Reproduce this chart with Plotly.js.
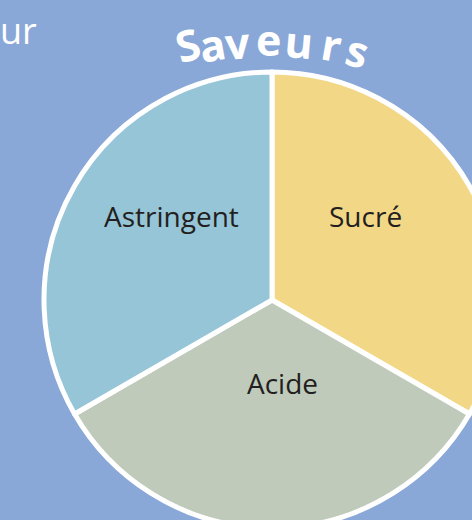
<!DOCTYPE html>
<html>
<head>
<meta charset="utf-8">
<script src="https://cdn.plot.ly/plotly-3.0.1.min.js"></script>
<style>
  html, body { margin: 0; padding: 0; overflow: hidden; background: #89a8d8; }
  #wrap { width: 472px; height: 520px; overflow: hidden; position: relative; }
  #chart { width: 544px; height: 600px; position: absolute; left: 0; top: 0; }
</style>
</head>
<body>
<div id="wrap"><div id="chart"></div></div>
<script>
// Data
const labels = ['Sucré', 'Acide', 'Astringent'];
const values = [1, 1, 1];
const sliceColors = ['#f2d886', '#bfcabb', '#96c5d8'];
const titleText = 'Saveurs';
const cornerText = 'ur';

// Layout helpers (pixel -> paper, plot is 544x600 with zero margins)
const W = 544, H = 600;
const px = x => x / W;
const py = y => 1 - y / H;

// Pie geometry in pixels
const cx = 272, cy = 300, R = 228;

// Label placement (pixel box centres) for each category
const labelPos = [[365, 216], [282, 383], [171, 216]];

// Curved title letters: centre positions and rotation
const letterPos = [
  [188, 45, -15], [212, 44, -10], [237, 43, -5], [268, 40, 0],
  [299, 41, 5], [332, 45, 10], [357, 50, 15]
];

const annotations = [];
labels.forEach((lab, i) => {
  annotations.push({
    text: lab, x: px(labelPos[i][0]), y: py(labelPos[i][1]),
    xref: 'paper', yref: 'paper', showarrow: false,
    xanchor: 'center', yanchor: 'middle',
    font: { family: 'Open Sans', size: 28, color: '#231f20' }
  });
});
titleText.split('').forEach((ch, i) => {
  const p = letterPos[i];
  annotations.push({
    text: ch, x: px(p[0]), y: py(p[1]), textangle: p[2],
    xref: 'paper', yref: 'paper', showarrow: false,
    xanchor: 'center', yanchor: 'middle',
    font: { family: 'Open Sans', size: 43, color: '#ffffff', weight: 700 }
  });
});
annotations.push({
  text: cornerText, x: px(0), y: py(31),
  xref: 'paper', yref: 'paper', showarrow: false,
  xanchor: 'left', yanchor: 'middle', borderpad: 0, borderwidth: 0,
  font: { family: 'Open Sans', size: 36, color: '#ffffff' }
});

const trace = {
  type: 'pie',
  labels: labels,
  values: values,
  sort: false,
  direction: 'clockwise',
  rotation: 0,
  textinfo: 'none',
  hoverinfo: 'skip',
  marker: { colors: sliceColors, line: { color: '#ffffff', width: 5 } },
  domain: { x: [px(cx - R), px(cx + R)], y: [py(cy + R), py(cy - R)] }
};

const layout = {
  width: W, height: H,
  margin: { l: 0, r: 0, t: 0, b: 0 },
  paper_bgcolor: '#89a8d8',
  plot_bgcolor: '#89a8d8',
  showlegend: false,
  annotations: annotations
};

Plotly.newPlot('chart', [trace], layout, { displayModeBar: false, staticPlot: true });
</script>
</body>
</html>
